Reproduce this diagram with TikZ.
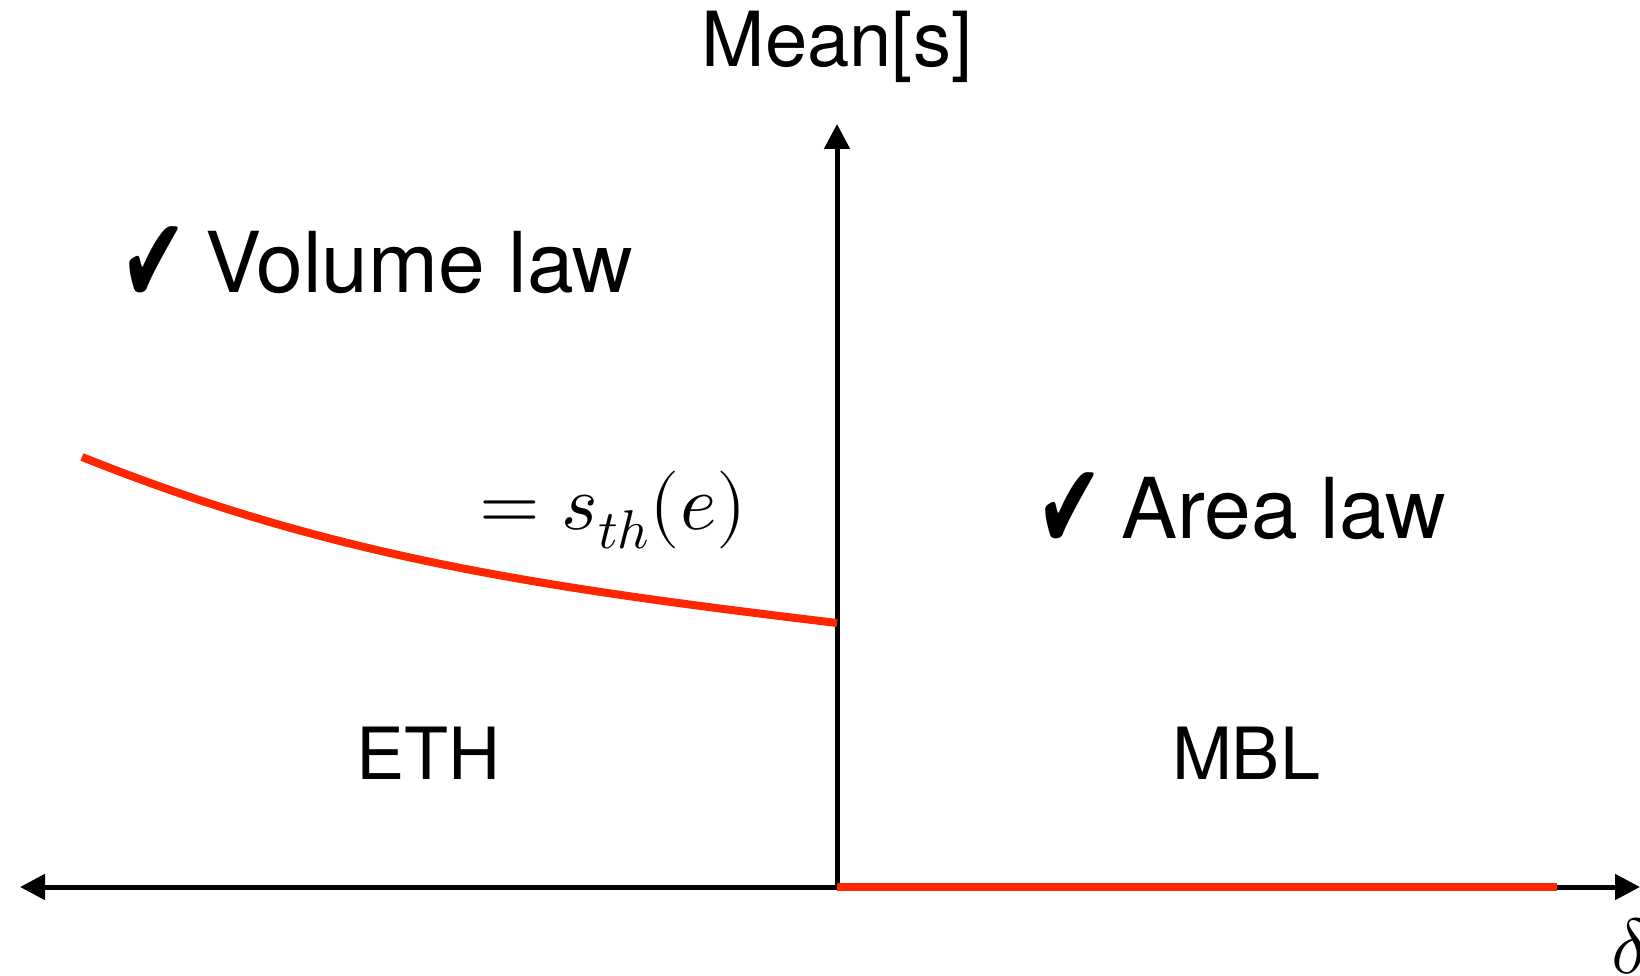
\documentclass[tikz,border=0pt]{standalone}
\usepackage{fontspec}
\usepackage{unicode-math}
\setmainfont{TeX Gyre Heros}
\setmathfont{Latin Modern Math}
\newfontfamily\checkfont{DejaVu Sans}
\newcommand{\tick}{\raisebox{-11pt}{\scalebox{0.95}[1.45]{\checkfont ✔}}}
\usetikzlibrary{arrows.meta}
\definecolor{phasered}{RGB}{255,38,0}

\begin{document}
\begin{tikzpicture}[x = 1pt, y = 1pt,
		axis/.style = {line width=5pt, -{Triangle[length=25pt, width=25pt]}},
		redline/.style = {line width=8pt, phasered},
		bigtext/.style = {font=\fontsize{84}{90}\selectfont, inner sep=0pt},
		phasetext/.style = {font=\fontsize{72}{80}\selectfont, inner sep=0pt},
		mathtext/.style = {font=\fontsize{78}{80}\selectfont, inner sep=0pt}]
		\useasboundingbox (0,0) rectangle (1640,975);
		% axes
		\coordinate (O) at (837,88);
		\coordinate (xl) at (20,88);
		\coordinate (xr) at (1640,88);
		\coordinate (yt) at (837,851);
		\draw [axis] (O) -- (xl);
		\draw [axis] (O) -- (xr);
		\draw [axis] (O) -- (yt);
		% entropy on both sides
		\coordinate (sa) at (82,518);
		\coordinate (sb) at (837,352);
		\coordinate (mbl) at (1557,88);
		\draw [redline] (sa) .. controls (332,418) and (537,388) .. (sb);
		\draw [redline] (O) -- (mbl);
		% labels
		\node [phasetext, font=\fontsize{76}{80}\selectfont, anchor=base] (ylab) at (837,908) {Mean[s]};
		\node [mathtext, anchor=base west] (xlab) at (1611,2) {$\delta$};
		\node [bigtext, anchor=base west] (vol) at (120,682) {\tick\hspace{18pt}Volume law};
		\node [bigtext, anchor=base west] (area) at (1036,436) {\tick\hspace{18pt}Area law};
		\node [mathtext, anchor=west] (sth) at (479,465) {$= s_{th}(e)$};
		\node [phasetext, anchor=base] (eth) at (428,196) {ETH};
		\node [phasetext, anchor=base] (mblab) at (1246,196) {MBL};
	\end{tikzpicture}
\end{document}
